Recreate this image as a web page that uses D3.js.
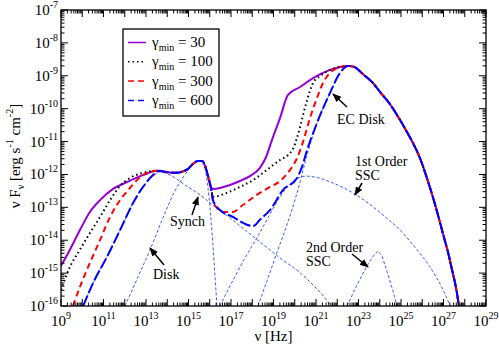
<!DOCTYPE html>
<html>
<head>
<meta charset="utf-8">
<script src="https://cdn.jsdelivr.net/npm/d3@7"></script>
<style>
body { margin: 0; background: #fff; }
svg text { font-family: "Liberation Serif", "Times New Roman", Tinos, "DejaVu Serif", serif !important; }
</style>
</head>
<body>
<div id="viz"></div>
<script>
'use strict';

const width = 499;
const height = 345;

// all points are [log10(nu / Hz), log10(nu F_nu / erg s^-1 cm^-2)]
// low-frequency rise of each total spectrum
const rise30 = [[9.00,-14.78],[9.42,-14.29],[9.89,-13.69],[10.36,-13.14],[10.84,-12.78],[11.45,-12.44],
    [12.11,-12.23],[12.86,-12.02],[13.52,-11.89]];
const rise100 = [[9.00,-15.51],[9.42,-14.81],[9.89,-14.29],[10.36,-13.78],[10.84,-13.29],[11.31,-12.78],
    [11.78,-12.35],[12.25,-12.11],[12.86,-11.95],[13.52,-11.89]];
const rise300 = [[9.56,-16.0],[9.89,-15.42],[10.36,-14.69],[10.84,-13.99],[11.31,-13.29],[11.78,-12.78],
    [12.25,-12.41],[12.72,-12.08],[13.19,-11.92],[13.52,-11.89]];
const rise600 = [[10.04,-16.0],[10.51,-15.30],[11.16,-14.51],[11.78,-13.69],[12.39,-12.87],[12.86,-12.38],
    [13.33,-12.02],[13.66,-11.89]];

// shared disk hump (all gamma_min)
const hump = [[13.89,-11.92],[14.36,-11.95],[14.69,-11.92],[14.98,-11.83],[15.21,-11.68],[15.45,-11.59],
    [15.64,-11.59],[15.78,-11.74],[15.92,-12.05],[16.06,-12.41]];

// valley between hump and EC peak
const mid30 = [[16.20,-12.44],[16.48,-12.41],[16.95,-12.32],[17.42,-12.20],[17.89,-12.05],[18.36,-11.80],
    [18.65,-11.47],[18.93,-10.95],[19.31,-10.28],[19.68,-9.58],[20.25,-9.34],[20.86,-9.07],[21.66,-8.82],
    [22.13,-8.73],[22.51,-8.70]];
const mid100 = [[16.15,-12.68],[16.81,-12.56],[17.42,-12.38],[18.04,-12.17],[18.69,-11.86],[19.31,-11.56],
    [19.70,-11.40],[19.92,-11.22],[20.10,-10.90],[20.25,-10.56],[20.42,-10.12],[20.58,-9.74],[20.86,-9.22],
    [21.19,-9.01],[21.66,-8.82],[22.13,-8.73],[22.51,-8.70]];
const mid300 = [[16.15,-12.78],[16.39,-13.05],[16.72,-13.14],[17.09,-13.14],[17.56,-12.93],[18.22,-12.62],
    [18.84,-12.38],[19.31,-12.20],[19.78,-11.86],[20.11,-11.50],[20.39,-11.01],[20.72,-10.28],[21.05,-9.67],
    [21.33,-9.22],[21.66,-8.91],[22.04,-8.76],[22.51,-8.70]];
const mid600 = [[16.15,-12.78],[16.48,-13.08],[17.09,-13.29],[17.75,-13.53],[18.04,-13.57],[18.36,-13.38],
    [18.84,-13.08],[19.45,-12.47],[20.11,-12.11],[20.34,-11.77],[20.58,-11.26],[21.05,-10.43],[21.66,-9.52],
    [22.13,-8.91],[22.51,-8.70]];

// shared EC disk fall-off
const tail = [[22.79,-8.73],[23.21,-8.95],[23.68,-9.22],[24.01,-9.49],[24.48,-9.86],[24.95,-10.34],
    [25.28,-10.71],[25.56,-11.04],[25.89,-11.50],[26.22,-12.11],[26.51,-12.71],[26.74,-13.23],[26.98,-13.81],
    [27.21,-14.36],[27.40,-14.90],[27.59,-15.45],[27.73,-16.0]];

// components (gamma_min = 600)
const synch = [[10.04,-16.0],[10.51,-15.30],[11.16,-14.51],[11.78,-13.69],[12.39,-12.87],[12.86,-12.38],
    [13.33,-12.05],[13.66,-11.92],[14.13,-12.02],[14.84,-12.32],[15.54,-12.62],[16.25,-12.99],[16.95,-13.32],
    [17.66,-13.69],[18.36,-14.05],[19.31,-14.54],[20.25,-14.99],[20.95,-15.42],[21.38,-15.72],[21.71,-16.0]];
const disk = [[12.01,-16.0],[12.58,-15.18],[13.19,-14.29],[13.80,-13.32],[14.36,-12.50],[14.93,-11.92],
    [15.21,-11.68],[15.45,-11.59],[15.64,-11.62],[15.78,-11.80],[15.87,-12.17],[15.96,-12.65],[16.11,-13.78],
    [16.25,-15.12],[16.34,-16.0]];
const ecDisk = [[18.27,-16.0],[18.74,-15.15],[19.21,-14.29],[19.68,-13.44],[20.01,-12.78],[20.25,-12.23],
    [20.48,-11.65],[20.72,-11.10],[21.05,-10.43],[21.66,-9.52],[22.13,-8.91],[22.51,-8.70]];
const ssc1 = [[16.48,-16.0],[17.05,-15.27],[17.66,-14.54],[18.27,-13.87],[18.84,-13.20],[19.31,-12.68],
    [19.78,-12.29],[20.15,-12.11],[20.53,-12.05],[20.95,-12.08],[21.80,-12.26],[22.74,-12.56],[23.45,-12.87],
    [24.15,-13.23],[24.95,-13.69],[25.75,-14.29],[26.36,-14.81],[26.98,-15.51],[27.31,-16.0]];
const ssc2 = [[22.46,-16.0],[22.93,-15.36],[23.40,-14.78],[23.73,-14.45],[23.92,-14.33],[24.11,-14.48],
    [24.39,-15.05],[24.62,-15.54],[24.81,-16.0]];

const legendLabels = ["30", "100", "300", "600"];
const xTickExps = d3.range(9, 30, 2);
const yTickExps = d3.range(-16, -6);

const svg = d3.select("#viz")
    .append("svg")
    .attr("width", width)
    .attr("height", height)
    .style("font-family", "'Liberation Serif', 'Times New Roman', serif");

const pLeft = 61, pRight = 486, pTop = 10, pBottom = 306;

let x = d3.scaleLog().domain([1e9, 1e29]).range([pLeft, pRight]);
let y = d3.scaleLog().domain([1e-16, 1e-7]).range([pBottom, pTop]);

svg.append("clipPath").attr("id", "clip")
    .append("rect")
    .attr("x", pLeft).attr("y", pTop)
    .attr("width", pRight - pLeft).attr("height", pBottom - pTop);

let line = d3.line()
    .x(d => x(Math.pow(10, d[0])))
    .y(d => y(Math.pow(10, d[1])))
    .curve(d3.curveMonotoneX);

const plot = svg.append("g").attr("clip-path", "url(#clip)");

// thin component curves
[synch, disk, ecDisk.concat(tail), ssc1].forEach(c => {
    plot.append("path")
        .attr("d", line(c))
        .attr("fill", "none")
        .attr("stroke", "#3a5cff")
        .attr("stroke-width", 1)
        .attr("stroke-dasharray", "3,2");
});
plot.append("path")
    .attr("d", line.curve(d3.curveLinear)(ssc2))
    .attr("fill", "none")
    .attr("stroke", "#3a5cff")
    .attr("stroke-width", 1)
    .attr("stroke-dasharray", "3,2");
line.curve(d3.curveMonotoneX);

const series = [
    {pts: rise30.concat(hump, mid30, tail), color: "#9400d3", dash: null},
    {pts: rise100.concat(hump, mid100, tail), color: "#000", dash: "1.5,3"},
    {pts: rise300.concat(hump, mid300, tail), color: "#ff0000", dash: "6,4"},
    {pts: rise600.concat(hump, mid600, tail), color: "#0000ff", dash: "11,3"}
];

series.forEach(s => {
    plot.append("path")
        .attr("d", line(s.pts))
        .attr("fill", "none")
        .attr("stroke", s.color)
        .attr("stroke-width", 2)
        .attr("stroke-dasharray", s.dash);
});

// frame and ticks (inward, all four sides)
const axes = svg.append("g").attr("stroke", "#000");
axes.append("rect")
    .attr("x", pLeft).attr("y", pTop)
    .attr("width", pRight - pLeft).attr("height", pBottom - pTop)
    .attr("fill", "none").attr("stroke-width", 1.3);

for (let k = 9; k <= 29; k++) {
    for (let m = 1; m <= 9; m++) {
        if (k == 29 && m > 1) break;
        let px = x(m * Math.pow(10, k));
        let len = m == 1 ? 7 : 3.5;
        axes.append("line").attr("x1", px).attr("x2", px).attr("y1", pBottom).attr("y2", pBottom - len);
        axes.append("line").attr("x1", px).attr("x2", px).attr("y1", pTop).attr("y2", pTop + len);
    }
}
for (let k = -16; k <= -7; k++) {
    for (let m = 1; m <= 9; m++) {
        if (k == -7 && m > 1) break;
        let py = y(m * Math.pow(10, k));
        let len = m == 1 ? 7 : 3.5;
        axes.append("line").attr("y1", py).attr("y2", py).attr("x1", pLeft).attr("x2", pLeft + len);
        axes.append("line").attr("y1", py).attr("y2", py).attr("x1", pRight).attr("x2", pRight - len);
    }
}

// tick labels
xTickExps.forEach(k => {
    let t = svg.append("text")
        .attr("x", x(Math.pow(10, k)))
        .attr("y", 326)
        .attr("text-anchor", "middle")
        .style("font-size", "15px");
    t.append("tspan").text("10");
    t.append("tspan").attr("dy", -7).style("font-size", "10px").text(k);
});
yTickExps.forEach(k => {
    let t = svg.append("text")
        .attr("x", 58)
        .attr("y", y(Math.pow(10, k)) + 5)
        .attr("text-anchor", "end")
        .style("font-size", "15px");
    t.append("tspan").text("10");
    t.append("tspan").attr("dy", -7).style("font-size", "10px").text(k);
});

// axis titles
svg.append("text")
    .attr("x", (pLeft + pRight) / 2)
    .attr("y", 341)
    .attr("text-anchor", "middle")
    .style("font-size", "15px")
    .text("ν [Hz]");

let yt = svg.append("text")
    .attr("transform", "translate(20," + ((pTop + pBottom) / 2 - 2) + ") rotate(-90)")
    .attr("text-anchor", "middle")
    .style("font-size", "15px");
yt.append("tspan").text("ν F");
yt.append("tspan").attr("dy", 4).style("font-size", "10px").text("ν");
yt.append("tspan").attr("dy", -4).text(" [erg s");
yt.append("tspan").attr("dy", -7).style("font-size", "10px").text("-1");
yt.append("tspan").attr("dy", 7).text(" cm");
yt.append("tspan").attr("dy", -7).style("font-size", "10px").text("-2");
yt.append("tspan").attr("dy", 7).text("]");

// legend
const legend = svg.append("g");
legend.append("rect")
    .attr("x", 123).attr("y", 29).attr("width", 96).attr("height", 87)
    .attr("fill", "#fff").attr("stroke", "#000").attr("stroke-width", 1.3);
series.forEach((s, i) => {
    let ly = 42.5 + i * 19.3;
    legend.append("line")
        .attr("x1", 128).attr("x2", 146).attr("y1", ly).attr("y2", ly)
        .attr("stroke", s.color).attr("stroke-width", 1.5)
        .attr("stroke-dasharray", i == 0 ? null : (i == 1 ? "1.5,3" : "6,4"));
    let t = legend.append("text").attr("x", 152).attr("y", ly + 4.5).style("font-size", "15px");
    t.append("tspan").text("γ");
    t.append("tspan").attr("dy", 4).style("font-size", "10px").text("min");
    t.append("tspan").attr("dy", -4).text(" = " + legendLabels[i]);
});

// annotations
const defs = svg.append("defs");
defs.append("marker")
    .attr("id", "arrow")
    .attr("viewBox", "0 0 10 10")
    .attr("refX", 9).attr("refY", 5)
    .attr("markerWidth", 6).attr("markerHeight", 6)
    .attr("orient", "auto")
    .append("path").attr("d", "M0,1L10,5L0,9z").attr("fill", "#000");

const notes = [
    {lines: ["Synch"], tx: 170, ty: 226, a: [192, 215, 198, 197]},
    {lines: ["Disk"], tx: 153, ty: 279, a: [164, 265, 150, 248]},
    {lines: ["EC Disk"], tx: 337, ty: 124, a: [347, 107, 333, 94]},
    {lines: ["1st Order", "SSC"], tx: 355, ty: 166, a: [362, 183, 355, 195]},
    {lines: ["2nd Order", "SSC"], tx: 306, ty: 252, a: [352, 254, 368, 267]}
];
notes.forEach(n => {
    n.lines.forEach((l, i) => {
        svg.append("text")
            .attr("x", n.tx).attr("y", n.ty + i * 14)
            .style("font-size", "14px")
            .text(l);
    });
    svg.append("line")
        .attr("x1", n.a[0]).attr("y1", n.a[1]).attr("x2", n.a[2]).attr("y2", n.a[3])
        .attr("stroke", "#000").attr("stroke-width", 1.5)
        .attr("marker-end", "url(#arrow)");
});
</script>
</body>
</html>
